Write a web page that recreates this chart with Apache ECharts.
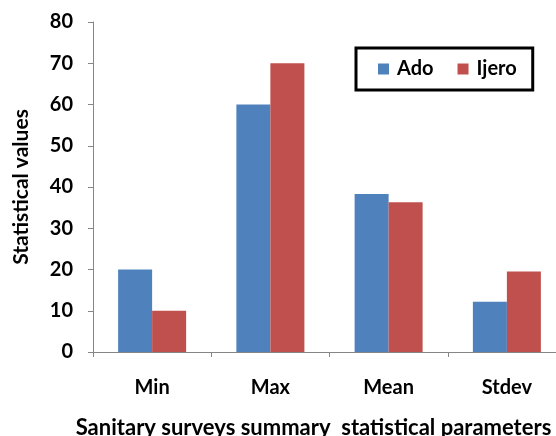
<!DOCTYPE html>
<html><head><meta charset="utf-8">
<script src="https://cdn.jsdelivr.net/npm/echarts@6/dist/echarts.min.js"></script>
<style>html,body{margin:0;padding:0;background:#fff}#c{width:556px;height:436px}</style>
</head><body><div id="c"></div>
<script>
var categories = ['Min', 'Max', 'Mean', 'Stdev'];
var ado = [20, 60, 38.3, 12.2];
var ijero = [10, 70, 36.3, 19.5];
var yTicks = [0, 10, 20, 30, 40, 50, 60, 70, 80];

var font = 'Lato';
var chart = echarts.init(document.getElementById('c'));
chart.setOption({
  animation: false,
  grid: { left: 93, right: -10, top: 22, bottom: 84, outerBoundsMode: 'none', containLabel: false },
  legend: {
    left: 356, top: 48,
    orient: 'horizontal',
    itemWidth: 11, itemHeight: 11, itemGap: 24,
    padding: [11, 16, 11, 22],
    borderColor: '#000', borderWidth: 3,
    icon: 'rect',
    textStyle: { fontFamily: font, fontWeight: 'bold', fontSize: 20, color: '#000', padding: [0, 0, 0, 3] },
    data: ['Ado', 'Ijero']
  },
  xAxis: {
    type: 'category', data: categories,
    name: 'Sanitary surveys summary  statistical parameters',
    nameLocation: 'middle', nameGap: 65,
    nameTextStyle: { fontFamily: font, fontWeight: 'bold', fontSize: 22, color: '#000', padding: [0, 32, 0, 0] },
    axisLine: { lineStyle: { color: '#868686', width: 1 } },
    axisTick: { show: true, length: 5, alignWithLabel: false, lineStyle: { color: '#868686' } },
    axisLabel: { margin: 26, fontFamily: font, fontWeight: 'bold', fontSize: 20, color: '#000' }
  },
  yAxis: {
    type: 'value', min: 0, max: 80, interval: 10,
    name: 'Statistical values', nameLocation: 'middle', nameGap: 61,
    nameTextStyle: { fontFamily: font, fontWeight: 'bold', fontSize: 21, color: '#000' },
    splitLine: { show: false },
    axisLine: { show: true, lineStyle: { color: '#868686', width: 1 } },
    axisTick: { show: true, length: 5, lineStyle: { color: '#868686' } },
    axisLabel: { margin: 20, fontFamily: font, fontWeight: 'bold', fontSize: 20, color: '#000',
      formatter: function (v) { return yTicks.indexOf(v) >= 0 ? String(v) : ''; } }
  },
  series: [
    { name: 'Ado', type: 'bar', data: ado, barWidth: 34, barGap: '0%', itemStyle: { color: '#4F81BD' } },
    { name: 'Ijero', type: 'bar', data: ijero, barWidth: 34, barGap: '0%', itemStyle: { color: '#C0504D' } }
  ]
});
</script></body></html>
